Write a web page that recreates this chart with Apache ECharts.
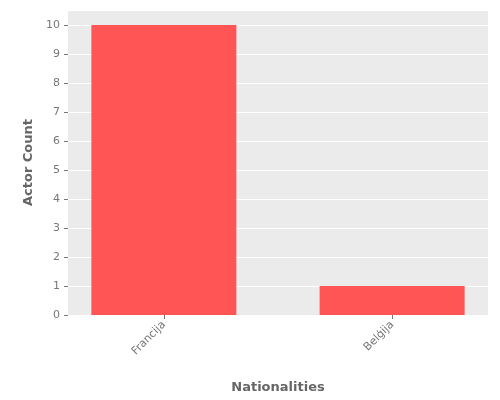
<!DOCTYPE html>
<html>
<head>
<meta charset="UTF-8">
<script src="https://cdn.jsdelivr.net/npm/echarts@6/dist/echarts.min.js"></script>
<style>
  body { margin: 0; background: #fff; }
  #chart { width: 500px; height: 400px; }
</style>
</head>
<body>
<div id="chart"></div>
<script>
const nationalities = ['Francija', 'Belģija'];
const positions = [1, 2];
const actorCounts = [10, 1];

const chart = echarts.init(document.getElementById('chart'));
chart.setOption({
    animation: false,
    textStyle: { fontFamily: 'DejaVu Sans' },
    grid: {
        left: 68, right: 12, top: 10, bottom: 85,
        show: true, backgroundColor: '#EBEBEB', borderWidth: 0
    },
    xAxis: {
        type: 'value',
        min: 0.58, max: 2.42,
        name: 'Nationalities',
        nameLocation: 'middle',
        nameGap: 66,
        nameTextStyle: { color: '#666', fontSize: 13, fontWeight: 'bold' },
        axisLine: { show: false },
        axisTick: { show: true, customValues: positions, lineStyle: { color: '#777' }, length: 4 },
        axisLabel: {
            rotate: 45, color: '#777', fontSize: 11,
            customValues: positions,
            formatter: v => nationalities[Math.round(v) - 1]
        },
        splitLine: { show: false }
    },
    yAxis: {
        type: 'value',
        min: 0, max: 10.52, interval: 1,
        name: 'Actor Count',
        nameLocation: 'middle',
        nameGap: 32,
        nameTextStyle: { color: '#666', fontSize: 13, fontWeight: 'bold' },
        axisLine: { show: false },
        axisTick: { show: true, lineStyle: { color: '#777' }, length: 4 },
        axisLabel: { color: '#777', fontSize: 11, showMaxLabel: false },
        splitLine: { lineStyle: { color: '#fff', width: 1 } }
    },
    series: [{
        type: 'bar',
        data: positions.map((p, i) => [p, actorCounts[i]]),
        barWidth: 145,
        itemStyle: { color: '#FF5555' }
    }]
});
</script>
</body>
</html>
